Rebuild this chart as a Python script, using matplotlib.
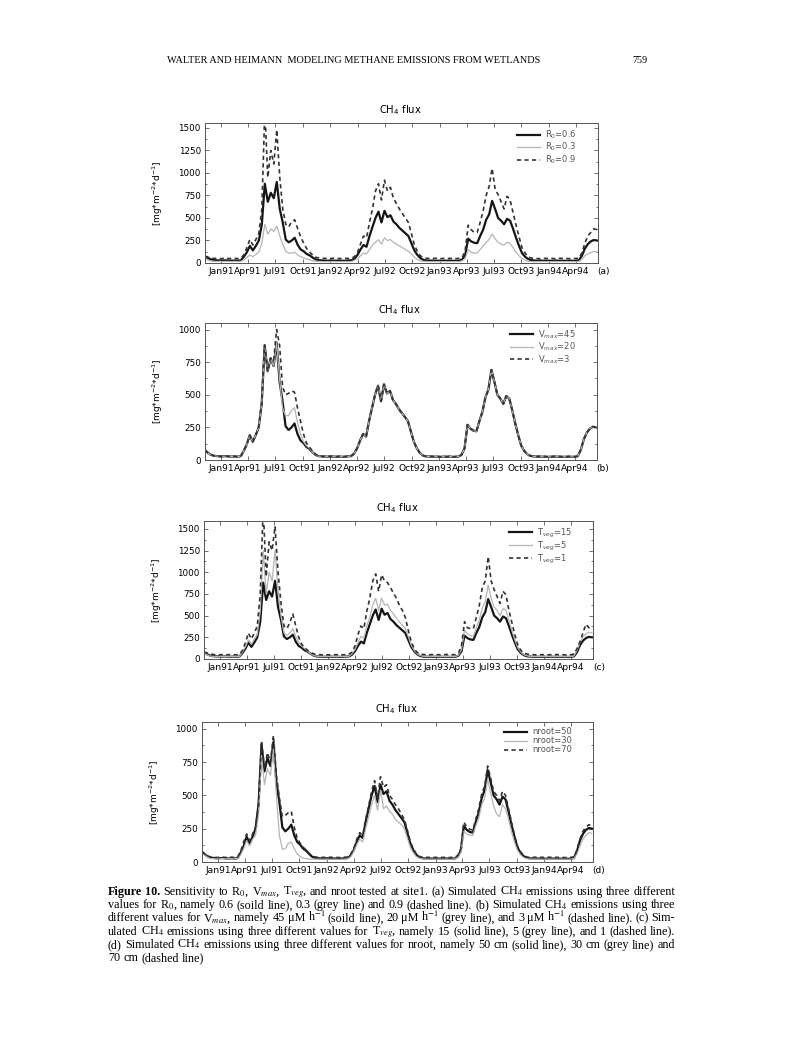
import matplotlib
matplotlib.use('Agg')
import matplotlib.pyplot as plt
import matplotlib.dates as mdates
from matplotlib.ticker import MultipleLocator
import pandas as pd

plt.rcParams['font.family'] = ['DejaVu Sans']

# simulated CH4 flux, one value every 10 days from 8 Nov 1990
dates = pd.date_range('1990-11-08', periods=132, freq='10D')

# standard run (R0=0.6, Vmax=45, Tveg=15, nroot=50), the solid line in every panel
base = [75, 55, 40, 32, 30, 28, 28, 30, 27, 26,
        28, 25, 30, 70, 120, 190, 140, 190, 250, 430,
        880, 680, 780, 720, 900, 600, 450, 260, 230, 250,
        280, 200, 150, 130, 100, 85, 60, 40, 30, 28,
        27, 25, 28, 26, 25, 27, 24, 26, 28, 30,
        50, 90, 150, 200, 180, 300, 400, 500, 570, 450,
        580, 510, 530, 460, 430, 390, 360, 330, 300, 220,
        140, 90, 55, 35, 28, 26, 27, 25, 26, 24,
        26, 25, 27, 24, 25, 26, 40, 90, 270, 240,
        225, 220, 300, 370, 480, 540, 690, 600, 500, 470,
        430, 490, 470, 380, 280, 190, 110, 70, 45, 32,
        28, 26, 27, 25, 26, 24, 25, 27, 25, 26,
        24, 25, 26, 24, 25, 30, 80, 160, 210, 240,
        255, 250]

r03 = [45, 30, 22, 18, 17, 18, 16, 18, 17, 16,
       18, 16, 19, 35, 60, 90, 70, 95, 120, 220,
       430, 320, 380, 350, 410, 300, 210, 130, 110, 110,
       120, 90, 70, 55, 45, 35, 25, 20, 17, 16,
       15, 16, 15, 17, 15, 16, 15, 16, 15, 17,
       30, 50, 80, 110, 100, 150, 200, 230, 260, 210,
       280, 250, 260, 230, 210, 190, 170, 150, 130, 100,
       65, 40, 25, 18, 16, 15, 16, 15, 16, 15,
       16, 15, 16, 15, 16, 15, 25, 50, 150, 120,
       110, 110, 150, 190, 230, 260, 320, 270, 230, 210,
       200, 230, 220, 170, 120, 80, 50, 30, 20, 16,
       15, 16, 15, 16, 15, 16, 15, 16, 15, 16,
       15, 16, 15, 16, 15, 18, 40, 80, 100, 115,
       130, 125]

r09 = [75, 65, 55, 50, 52, 48, 50, 53, 49, 50,
       52, 48, 55, 90, 170, 260, 200, 260, 330, 600,
       1700, 950, 1250, 1100, 1480, 950, 600, 430, 400, 460,
       480, 380, 290, 220, 160, 120, 90, 65, 55, 50,
       52, 48, 50, 53, 49, 50, 48, 52, 50, 55,
       70, 120, 210, 300, 280, 450, 600, 800, 880, 700,
       920, 800, 840, 720, 660, 600, 550, 500, 450, 330,
       200, 130, 80, 60, 52, 50, 48, 53, 50, 49,
       51, 48, 52, 50, 49, 52, 60, 140, 420, 370,
       340, 340, 450, 580, 750, 850, 1050, 820, 760, 680,
       600, 740, 700, 560, 420, 290, 170, 110, 70, 55,
       52, 50, 48, 52, 50, 49, 51, 48, 50, 52,
       49, 50, 48, 51, 50, 55, 110, 220, 300, 340,
       380, 370]

# Vmax runs only differ from the standard run in summer/autumn 1991
v20 = base[:25] + [620, 400, 340, 340, 380, 400, 290, 200, 140, 110, 90, 60, 40] + base[38:]
v3 = base[:23] + [760, 1000, 880, 560, 500, 510, 530, 520, 400, 300, 200, 130, 100, 70, 45] + base[38:]

t5 = [70, 50, 35, 30, 28, 27, 28, 30, 27, 28,
      29, 27, 31, 80, 140, 220, 170, 230, 280, 550,
      1250, 750, 1000, 900, 1250, 800, 500, 300, 270, 300,
      350, 260, 190, 150, 120, 90, 60, 40, 32, 30,
      29, 28, 30, 28, 27, 29, 27, 28, 30, 32,
      60, 110, 190, 260, 240, 380, 480, 620, 700, 560,
      700, 620, 630, 560, 520, 470, 430, 390, 350, 260,
      160, 100, 60, 40, 32, 29, 30, 28, 29, 27,
      28, 27, 29, 27, 28, 29, 45, 110, 330, 290,
      270, 265, 360, 450, 590, 660, 850, 700, 600, 560,
      500, 580, 560, 440, 330, 220, 130, 80, 50, 38,
      30, 29, 30, 28, 29, 27, 28, 30, 28, 29,
      27, 28, 29, 27, 28, 34, 100, 190, 250, 290,
      310, 300]

t1 = [80, 70, 60, 52, 50, 48, 50, 52, 49, 50,
      51, 48, 54, 100, 190, 300, 230, 300, 380, 750,
      1750, 950, 1350, 1250, 1530, 1000, 650, 380, 350, 420,
      520, 380, 250, 170, 130, 100, 75, 60, 52, 50,
      48, 50, 47, 51, 49, 50, 47, 49, 51, 55,
      80, 150, 280, 380, 350, 550, 700, 900, 980, 780,
      970, 900, 880, 820, 760, 700, 620, 560, 480, 330,
      200, 120, 75, 60, 52, 50, 48, 51, 49, 50,
      48, 50, 52, 49, 50, 51, 70, 160, 430, 360,
      350, 350, 480, 620, 820, 900, 1180, 900, 800, 720,
      640, 780, 740, 560, 420, 280, 160, 100, 70, 58,
      52, 50, 48, 51, 49, 50, 48, 50, 49, 51,
      48, 50, 49, 47, 50, 58, 120, 200, 300, 400,
      360, 390]

n30 = [65, 48, 35, 26, 25, 24, 25, 26, 24, 25,
       26, 24, 27, 55, 100, 160, 120, 170, 200, 360,
       800, 580, 700, 650, 850, 500, 200, 95, 100, 140,
       150, 100, 60, 40, 30, 25, 22, 21, 22, 21,
       22, 21, 22, 20, 21, 22, 20, 21, 22, 24,
       40, 80, 130, 170, 150, 250, 340, 430, 500, 390,
       540, 400, 420, 380, 360, 320, 300, 280, 250, 180,
       110, 70, 40, 30, 24, 22, 23, 21, 22, 21,
       22, 21, 23, 21, 22, 23, 35, 70, 230, 210,
       200, 200, 270, 330, 430, 480, 620, 520, 420, 360,
       340, 430, 400, 320, 230, 150, 90, 55, 35, 26,
       23, 22, 23, 21, 22, 21, 22, 23, 21, 22,
       21, 22, 23, 21, 22, 26, 60, 120, 170, 200,
       220, 215]

n70 = [80, 60, 45, 36, 35, 34, 35, 36, 34, 35,
       36, 34, 37, 80, 150, 210, 160, 210, 260, 430,
       910, 700, 820, 750, 950, 650, 480, 340, 350, 370,
       380, 260, 180, 140, 110, 90, 65, 45, 38, 35,
       34, 35, 33, 36, 34, 35, 33, 35, 36, 38,
       60, 100, 170, 220, 200, 320, 420, 530, 610, 480,
       640, 560, 580, 500, 470, 430, 400, 360, 320, 240,
       150, 100, 60, 42, 36, 34, 35, 33, 35, 34,
       35, 34, 36, 33, 35, 36, 50, 100, 300, 260,
       245, 240, 320, 400, 510, 570, 720, 630, 530, 500,
       460, 530, 500, 400, 300, 200, 120, 80, 50, 38,
       35, 34, 36, 33, 35, 34, 36, 35, 33, 35,
       34, 35, 33, 36, 34, 40, 90, 170, 230, 260,
       280, 270]

labels_a = ['R$_0$=0.6', 'R$_0$=0.3', 'R$_0$=0.9']
labels_b = ['V$_{max}$=45', 'V$_{max}$=20', 'V$_{max}$=3']
labels_c = ['T$_{veg}$=15', 'T$_{veg}$=5', 'T$_{veg}$=1']
labels_d = ['nroot=50', 'nroot=30', 'nroot=70']

W, H = 797, 1055
fig = plt.figure(figsize=(W / 100, H / 100), dpi=100)
fig.patch.set_facecolor('white')


def box(l, t, r, b):
    # pixel box on the page -> figure fraction
    return [l / W, 1 - b / H, (r - l) / W, (b - t) / H]


panels = [
    (box(205, 123, 598, 263), 1555, [base, r03, r09], labels_a, '(a)'),
    (box(205, 323, 597, 460), 1050, [base, v20, v3], labels_b, '(b)'),
    (box(204, 521, 593, 659), 1590, [base, t5, t1], labels_c, '(c)'),
    (box(202, 722, 593, 862), 1050, [base, n30, n70], labels_d, '(d)'),
]

styles = [dict(color='#151515', lw=1.6),
          dict(color='#b5b5b5', lw=0.9),
          dict(color='#333333', lw=1.2, dashes=(2.5, 2))]

for rect, top, series, labels, tag in panels:
    ax = fig.add_axes(rect)
    for s, lab, st in zip(series, labels, styles):
        ax.plot(dates, s, label=lab, **st)
    ax.set_xlim(pd.Timestamp('1990-11-08'), pd.Timestamp('1994-06-14'))
    ax.set_ylim(0, top)
    ax.set_yticks(range(0, top + 1, 250))
    ax.yaxis.set_minor_locator(MultipleLocator(125))
    ax.xaxis.set_major_locator(mdates.MonthLocator(bymonth=[1, 4, 7, 10]))
    ax.xaxis.set_major_formatter(mdates.DateFormatter('%b%y'))
    ax.tick_params(which='both', direction='in', top=True, right=True,
                   width=0.6, color='#555555', pad=3)
    ax.tick_params(which='major', length=3)
    ax.tick_params(which='minor', length=1.5)
    ax.tick_params(axis='x', labelsize=6.6)
    ax.tick_params(axis='y', labelsize=6.3)
    for sp in ax.spines.values():
        sp.set_color('#555555')
        sp.set_linewidth(0.7)
    ax.set_ylabel('[mg*m$^{-2}$*d$^{-1}$]', fontsize=6.5)
    ax.yaxis.set_label_coords(-0.102, 0.5)
    ax.text(0.496, 1.093, 'CH$_4$ flux', transform=ax.transAxes,
            ha='center', va='center', fontsize=7.2)
    ax.text(1.015, -0.064, tag, transform=ax.transAxes,
            ha='center', va='center', fontsize=6.5)
    ax.legend(loc='upper right', bbox_to_anchor=(0.955, 0.985), frameon=False,
              fontsize=6, handlelength=2.8, handletextpad=0.6,
              labelspacing=0.0, borderaxespad=0, labelcolor='#555555')

renderer = fig.canvas.get_renderer()

# running head, sized to span the same width as on the page
head = fig.text(354 / W, 1 - 63 / H,
                'WALTER AND HEIMANN  MODELING METHANE EMISSIONS FROM WETLANDS',
                ha='center', va='baseline', family='Liberation Serif', fontsize=10)
head.set_fontsize(10 * 378 / head.get_window_extent(renderer).width)
fig.text(640 / W, 1 - 63 / H, '759', ha='center', va='baseline',
         family='Liberation Serif', fontsize=head.get_fontsize())

# caption, justified line by line like the printed page
cap = [
    'Figure 10. Sensitivity to R$_0$, V$_{max}$, T$_{veg}$, and nroot tested at site1. (a) Simulated CH$_4$ emissions using three different',
    'values for R$_0$, namely 0.6 (soild line), 0.3 (grey line) and 0.9 (dashed line). (b) Simulated CH$_4$ emissions using three',
    'different values for V$_{max}$, namely 45 \u03bcM h$^{-1}$ (soild line), 20 \u03bcM h$^{-1}$ (grey line), and 3 \u03bcM h$^{-1}$ (dashed line). (c) Sim-',
    'ulated CH$_4$ emissions using three different values for T$_{veg}$, namely 15 (solid line), 5 (grey line), and 1 (dashed line).',
    '(d) Simulated CH$_4$ emissions using three different values for nroot, namely 50 cm (solid line), 30 cm (grey line) and',
    '70 cm (dashed line)',
]
x0, target = 108, 567
rows = []
for i, line in enumerate(cap):
    row = []
    for j, w in enumerate(line.split(' ')):
        bold = (i == 0 and j < 2)
        t = fig.text(0, 1 - (895 + 13.2 * i) / H, w, va='baseline',
                     family='Liberation Serif', fontsize=10,
                     fontweight='bold' if bold else 'normal',
                     math_fontfamily='stix')
        row.append(t)
    rows.append(row)

# size the type so the first line fits with normal word spacing
space10 = 0.25 * 10 * 100 / 72
ws0 = [t.get_window_extent(renderer).width for t in rows[0]]
scale = target / (sum(ws0) + space10 * (len(ws0) - 1))
for row in rows:
    for t in row:
        t.set_fontsize(10 * scale)

min_gap = 0.16 * 10 * scale * 100 / 72
for i, row in enumerate(rows):
    ws = [t.get_window_extent(renderer).width for t in row]
    if i < 5:
        gap = max(min_gap, (target - sum(ws)) / (len(ws) - 1))
    else:
        gap = space10 * scale
    x = x0
    for t, w in zip(row, ws):
        t.set_x(x / W)
        x += w + gap

fig.savefig('out.png', dpi=100, facecolor='white')
